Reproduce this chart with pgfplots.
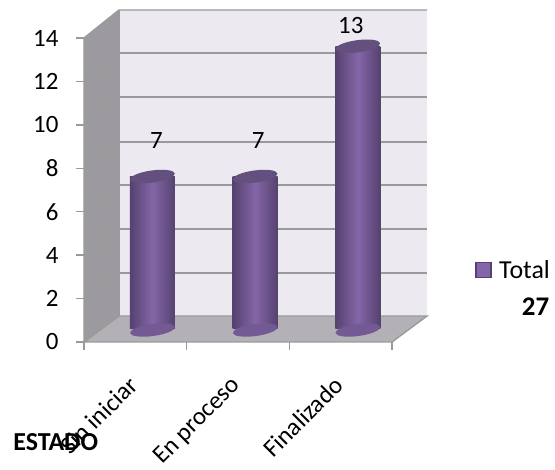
\documentclass[border=0pt]{standalone}
\usepackage{fontspec}
\setmainfont{Carlito}
\usepackage{pgfplots}
\pgfplotsset{compat=1.18}
\usepackage{pgfplotstable}

\definecolor{wallback}{HTML}{ECEAF0}
\definecolor{wallside}{HTML}{9C9A9F}
\definecolor{wallfloor}{HTML}{B3B1B6}
\definecolor{gridgrey}{HTML}{9A9A9A}
\definecolor{barmid}{HTML}{8466A8}
\definecolor{baredge}{HTML}{55426F}
\definecolor{barbase}{HTML}{735A95}
\definecolor{bartop}{HTML}{64507F}

\pgfdeclareplotmark{barcap}{\pgfpathellipse{\pgfpointorigin}{\pgfqpoint{22.3bp}{3bp}}{\pgfqpoint{-0.9bp}{6bp}}\pgfusepath{fill}}

\pgfplotstableread{
x     y  dx  dy
0.667 7  4   36
1.667 7  3   36
2.667 13 -7  21
}\estados

\begin{document}
\begin{tikzpicture}[x=1bp,y=1bp]
\path[use as bounding box] (0,0) rectangle (555,470);
\begin{axis}[
    at={(84bp,128bp)},
    anchor=origin,
    scale only axis,
    width=343bp,
    height=332bp,
    xmin=0, xmax=3.341,
    ymin=0, ymax=15.29,
    axis lines=left,
    axis line style={draw=none,-},
    clip=false,
    xtick={0,1,2,3},
    xticklabels={},
    extra x ticks={0.5,1.5,2.5},
    extra x tick labels={Sin iniciar,En proceso,Finalizado},
    extra x tick style={
        major tick length=0pt,
        tick label style={rotate=45,anchor=north east,font=\fontsize{25}{25}\selectfont,xshift=-25.5bp,yshift=-14bp},
    },
    ytick={0,2,...,14},
    tick style={draw=gridgrey,line width=1.4bp},
    major tick length=8bp,
    tick align=outside,
    tick pos=left,
    y tick label style={font=\fontsize{25}{25}\selectfont,xshift=-14bp},
    /pgf/number format/assume math mode=true,
]
% paredes
\addplot[fill=wallback,draw=none] coordinates {(0.341,1.197) (3.341,1.197) (3.341,15.29) (0.341,15.29)} -- cycle;
\addplot[fill=wallside,draw=none] coordinates {(0,0) (0.341,1.197) (0.341,15.29) (0,14)} -- cycle;
\addplot[fill=wallfloor,draw=none] coordinates {(0,0) (3,0) (3.341,1.197) (0.341,1.197)} -- cycle;
% bordes
\addplot[gridgrey,line width=1.4bp] coordinates {(0,14) (0,0) (3,0) (3.341,1.197) (0.341,1.197) (0,0)};
\addplot[gridgrey,line width=1.4bp] coordinates {(0,14) (0.341,15.29) (3.341,15.29)};
\addplot[gridgrey,line width=1.4bp] coordinates {(0.341,1.197) (0.341,15.29)};
% rejilla
\pgfplotsinvokeforeach{3.18,5.2,7.23,9.21,11.28,13.31}{
    \addplot[gridgrey,line width=1.4bp] coordinates {(0.341,#1) (3.341,#1)};
}
\addplot[gridgrey,line width=1.4bp] coordinates {(0,2) (0.341,3.18)};
\addplot[gridgrey,line width=1.4bp] coordinates {(0,4) (0.341,5.2)};
\addplot[gridgrey,line width=1.4bp] coordinates {(0,6) (0.341,7.23)};
\addplot[gridgrey,line width=1.4bp] coordinates {(0,8) (0.341,9.21)};
\addplot[gridgrey,line width=1.4bp] coordinates {(0,10) (0.341,11.28)};
\addplot[gridgrey,line width=1.4bp] coordinates {(0,12) (0.341,13.31)};
% barras
\addplot[only marks,mark=barcap,mark options={fill=barbase,draw=none},yshift=12bp] coordinates {(0.667,0) (1.667,0) (2.667,0)};
\addplot[ybar,bar width=45bp,bar shift=0pt,draw=none,yshift=13.5bp,
    left color=baredge,right color=baredge,middle color=barmid] coordinates {(0.667,7)};
\addplot[ybar,bar width=45bp,bar shift=0pt,draw=none,yshift=13.5bp,
    left color=baredge,right color=baredge,middle color=barmid] coordinates {(1.667,7)};
\addplot[ybar,bar width=45bp,bar shift=0pt,draw=none,yshift=13.5bp,
    left color=baredge,right color=baredge,middle color=barmid] coordinates {(2.667,13)};
\addplot[only marks,mark=barcap,mark options={fill=bartop,draw=none},yshift=13.5bp,
    visualization depends on={\thisrow{dx}\as\labdx},
    visualization depends on={\thisrow{dy}\as\labdy},
    nodes near coords,
    every node near coord/.append style={anchor=center,font=\fontsize{25}{25}\selectfont,text=black,xshift=\labdx bp,yshift=\labdy bp},
] table[x=x,y=y] {\estados};
% leyenda
\node[draw=baredge,fill=barmid,line width=1.2bp,minimum size=15bp,inner sep=0pt,anchor=center] at (axis cs:3.891,3.32) {};
\node[anchor=west,font=\fontsize{26}{26}\selectfont,inner sep=0pt] at (axis cs:4.042,3.32) {Total};
\node[font=\bfseries\fontsize{27}{27}\selectfont,inner sep=0pt] at (axis cs:4.398,1.61) {27};
\node[font=\bfseries\fontsize{26}{26}\selectfont,anchor=west,inner sep=0pt] at (axis cs:-0.69,-4.6) {ESTADO};
\end{axis}
\end{tikzpicture}
\end{document}
